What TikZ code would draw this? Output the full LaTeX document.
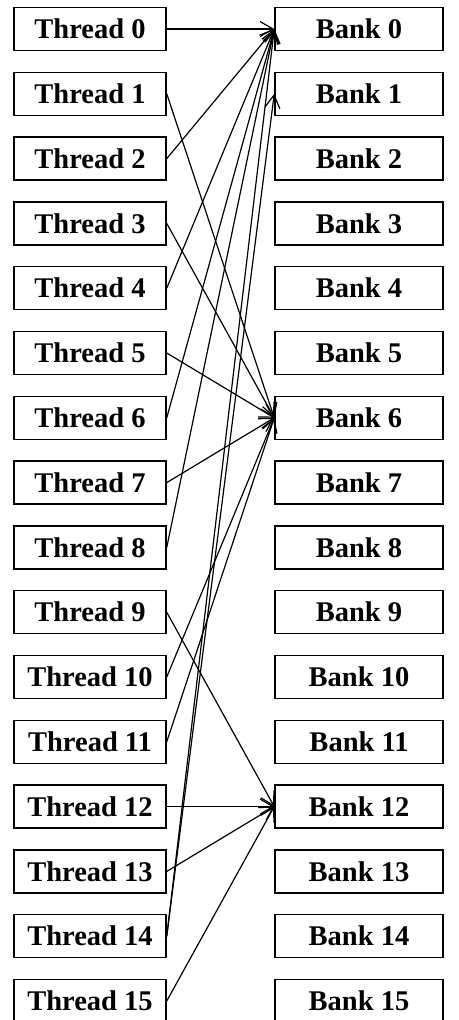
\documentclass[tikz,border=0pt]{standalone}
\usepackage{fontspec}
\setmainfont{Liberation Serif}
\usetikzlibrary{arrows.meta}

\begin{document}
\begin{tikzpicture}[x=1bp,y=-1bp,
		thr/.style={draw,rectangle,line width=1.5bp,minimum width=152bp,minimum height=43bp,inner sep=0pt,font=\fontsize{28.5bp}{33bp}\selectfont\bfseries},
		bnk/.style={thr,minimum width=168bp},
		acc/.style={-{Straight Barb[length=13bp,width=15bp,line width=1.2bp]},line width=1.2bp}]
	\useasboundingbox (0,0) rectangle (459,1020);
	\foreach \i in {0,...,15}{
		\node[thr] (t\i) at (90,29+64.8*\i) {Thread \i};
		\node[bnk] (b\i) at (359,29+64.8*\i) {Bank \i};
	}
	\foreach \t/\b in {0/0,1/6,2/0,3/6,4/0,5/6,6/0,7/6,8/0,9/12,10/6,11/6,12/12,13/12,14/0,14/1,15/12}
		\draw[acc] (t\t.east) -- (b\b.west);
\end{tikzpicture}
\end{document}
